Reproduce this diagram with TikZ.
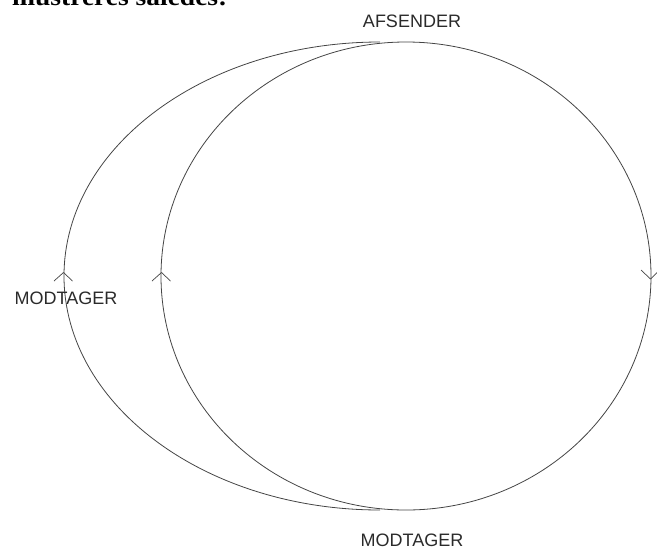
\documentclass[tikz,border=0pt]{standalone}
\usepackage{fontspec}
\setmainfont{Liberation Sans}
\newfontfamily\headfont{Liberation Serif}
\definecolor{ink}{HTML}{444444}
\definecolor{txt}{HTML}{2A2A2A}
\begin{document}
\begin{tikzpicture}[x=1pt,y=-1pt,
  curve/.style={draw=ink, line width=0.8pt},
  chevron/.style={draw=ink, line width=0.7pt},
  lbl/.style={text=txt, font=\fontsize{18}{20}\selectfont, inner sep=0pt}]
\useasboundingbox (0,0) rectangle (657,550);
% cut-off heading
\node[anchor=base west, inner sep=0pt, text=black, font=\headfont\bfseries\fontsize{25}{28}\selectfont, xscale=1.1] (head) at (12,5) {illustreres således:};
% circle
\draw[curve] (406,276) ellipse [x radius=245pt, y radius=234pt];
% left half ellipse
\draw[curve] (380,42) arc [start angle=90, end angle=270, x radius=316pt, y radius=234pt];
% arrowheads
\draw[chevron] (54,281) -- (63.5,272.5) -- (72.5,281);
\draw[chevron] (152,281) -- (161.5,272.5) -- (170.5,281);
\draw[chevron] (641,270) -- (650.5,279) -- (659.5,270);
% labels
\node[lbl] (afs) at (412,21) {AFSENDER};
\node[lbl] (mod1) at (66,298) {MODTAGER};
\node[lbl] (mod2) at (412,540) {MODTAGER};
\end{tikzpicture}
\end{document}
